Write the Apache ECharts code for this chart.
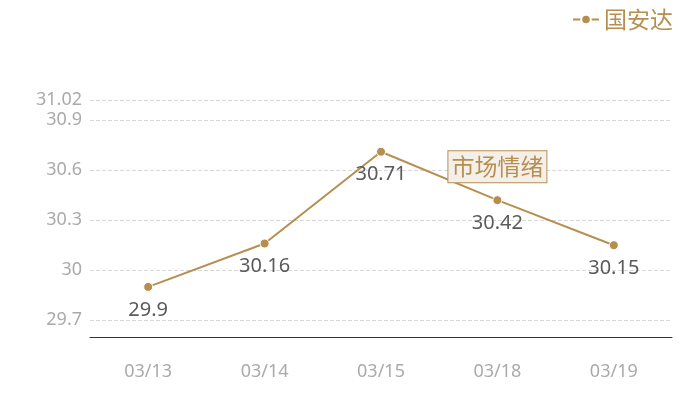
<!DOCTYPE html>
<html><head><meta charset="utf-8">
<script src="https://cdn.jsdelivr.net/npm/echarts@6/dist/echarts.min.js"></script>
<style>html,body{margin:0;padding:0;background:#fff}#c{width:700px;height:400px}</style>
</head><body><div id="c"></div>
<script>
var categories = ['03/13','03/14','03/15','03/18','03/19'];
var prices = [29.9, 30.16, 30.71, 30.42, 30.15];
var yTicks = [29.7, 30, 30.3, 30.6, 30.9, 31.02];
var seriesName = '国安达';
var noteText = '市场情绪';
var noteAt = ['03/18', 30.62];

var gold = '#b68f50';
var chart = echarts.init(document.getElementById('c'));
chart.setOption({
  animation: false,
  textStyle: {fontFamily: '"Noto Sans", "Noto Sans CJK SC", sans-serif'},
  legend: {
    right: 22, top: 3,
    itemWidth: 26, itemHeight: 12,
    textStyle: {color: gold, fontSize: 23, fontFamily: '"Noto Sans CJK SC"'},
    data: [seriesName]
  },
  grid: {left: 90, right: 28, top: 100, bottom: 63},
  xAxis: {
    type: 'category', data: categories, boundaryGap: true,
    axisLine: {lineStyle: {color: '#333', width: 1}},
    axisTick: {show: false},
    axisLabel: {color: '#aaa', fontSize: 18, margin: 26}
  },
  yAxis: {
    type: 'value', min: 29.6, max: 31.02,
    axisLine: {show: false},
    axisTick: {show: false, customValues: yTicks},
    axisLabel: {color: '#aaa', fontSize: 18, margin: 8, customValues: yTicks},
    splitLine: {lineStyle: {type: 'dashed', color: '#d8d8d8'}}
  },
  series: [{
    name: seriesName, type: 'line', data: prices,
    symbol: 'circle', symbolSize: 9,
    itemStyle: {color: gold, borderColor: '#fff', borderWidth: 1},
    lineStyle: {color: gold, width: 2},
    label: {show: true, position: 'bottom', distance: 8, color: '#5a5a5a', fontSize: 20},
    markPoint: {
      symbol: 'rect', symbolSize: 0,
      data: [{coord: noteAt, value: noteText}],
      label: {
        show: true, position: 'inside', formatter: noteText,
        color: gold, fontSize: 23, fontFamily: '"Noto Sans CJK SC"',
        backgroundColor: '#f4efe9', borderColor: gold, borderWidth: 1,
        padding: [4, 3]
      }
    }
  }]
});
</script></body></html>
